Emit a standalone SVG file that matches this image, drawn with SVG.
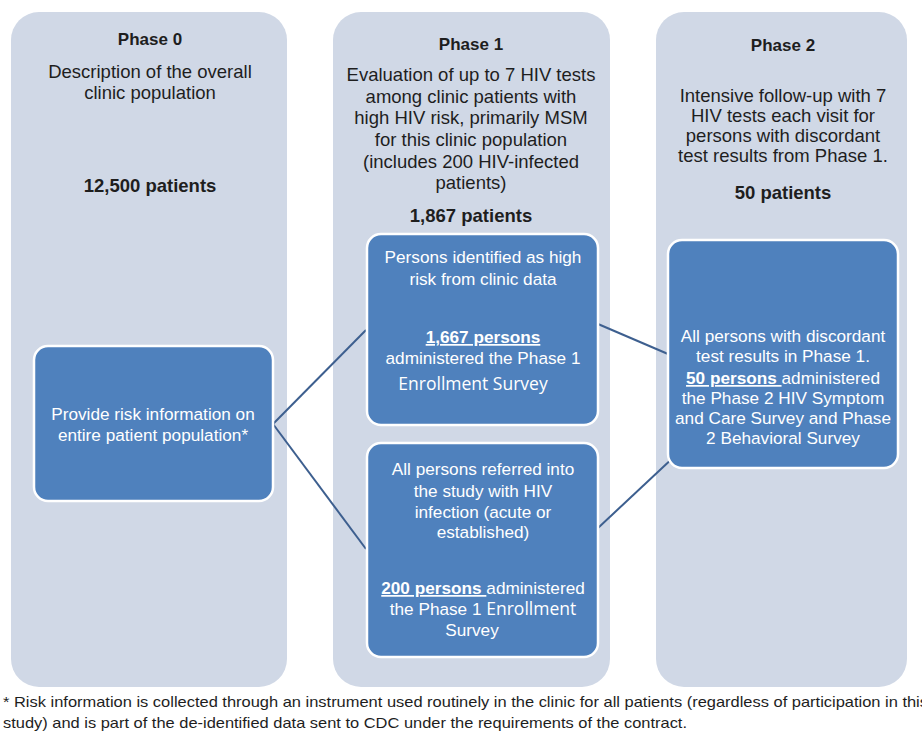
<svg xmlns="http://www.w3.org/2000/svg" width="922" height="732" viewBox="0 0 922 732">
<style>
.col{fill:#d0d8e6}
.box{fill:#4f81bd;stroke:#ffffff;stroke-width:2.5}
.conn{stroke:#3d5f8f;stroke-width:2;fill:none}
.t{font-family:"Liberation Sans",Arial,sans-serif;text-anchor:middle;fill:#1e1e1e;font-size:18.5px}
.h{font-size:17px;font-weight:bold}
.b{font-weight:bold}
.w{font-family:"Liberation Sans",Arial,sans-serif;text-anchor:middle;fill:#ffffff;font-size:17.2px}
.e{font-family:"Open Sans","Noto Sans",sans-serif;font-size:17.5px}
.u{text-decoration:underline;font-weight:bold}
.f{font-family:"Liberation Sans",Arial,sans-serif;fill:#1e1e1e;font-size:15px}
</style>
<rect width="922" height="732" fill="#ffffff"/>
<g id="phase0">
<rect class="col" x="11" y="12" width="276" height="675" rx="28"/>
<text class="t h" x="150" y="45">Phase 0</text>
<text class="t" x="150" y="78">Description of the overall</text>
<text class="t" x="150" y="99">clinic population</text>
<text class="t b" x="150" y="192">12,500 patients</text>
</g>
<g id="phase1">
<rect class="col" x="333" y="12" width="277" height="675" rx="28"/>
<text class="t h" x="471" y="50">Phase 1</text>
<text class="t" x="471" y="81">Evaluation of up to 7 HIV tests</text>
<text class="t" x="471" y="103">among clinic patients with</text>
<text class="t" x="471" y="124">high HIV risk, primarily MSM</text>
<text class="t" x="471" y="146">for this clinic population</text>
<text class="t" x="471" y="168">(includes 200 HIV-infected</text>
<text class="t" x="471" y="189">patients)</text>
<text class="t b" x="471" y="222">1,867 patients</text>
</g>
<g id="phase2">
<rect class="col" x="656" y="12" width="251" height="675" rx="28"/>
<text class="t h" x="783" y="51">Phase 2</text>
<text class="t" x="783" y="102">Intensive follow-up with 7</text>
<text class="t" x="783" y="122">HIV tests each visit for</text>
<text class="t" x="783" y="142">persons with discordant</text>
<text class="t" x="783" y="162">test results from Phase 1.</text>
<text class="t b" x="783" y="199">50 patients</text>
</g>
<g id="connectors">
<line class="conn" x1="273" y1="424" x2="366" y2="330"/>
<line class="conn" x1="273" y1="424" x2="366" y2="549"/>
<line class="conn" x1="598" y1="324" x2="668" y2="354"/>
<line class="conn" x1="598" y1="528" x2="676" y2="455"/>
</g>
<g id="risk-info">
<rect class="box" x="34" y="346" width="239" height="155" rx="14"/>
<text class="w" x="153" y="420">Provide risk information on</text>
<text class="w" x="153" y="441">entire patient population*</text>
</g>
<g id="high-risk">
<rect class="box" x="367" y="234" width="231" height="191" rx="14"/>
<text class="w" x="483" y="263">Persons identified as high</text>
<text class="w" x="483" y="285">risk from clinic data</text>
<text class="w u" x="483" y="343">1,667 persons</text>
<text class="w" x="483" y="364">administered the Phase 1</text>
<text class="w e" x="473" y="390">Enrollment Survey</text>
</g>
<g id="hiv-infected">
<rect class="box" x="367" y="443" width="231" height="214" rx="14"/>
<text class="w" x="483" y="475">All persons  referred into</text>
<text class="w" x="483" y="497">the study  with HIV</text>
<text class="w" x="483" y="518">infection (acute or</text>
<text class="w" x="483" y="538">established)</text>
<text class="w" x="483" y="594"><tspan class="u">200 persons </tspan>administered</text>
<text class="w" x="483" y="615">the Phase 1 <tspan class="e" font-size="16">Enrollment</tspan></text>
<text class="w" x="472" y="636">Survey</text>
</g>
<g id="discordant">
<rect class="box" x="668" y="240" width="230" height="228" rx="14"/>
<text class="w" x="783" y="342">All persons with discordant</text>
<text class="w" x="783" y="362">test results in Phase 1.</text>
<text class="w" x="783" y="384"><tspan class="u">50 persons </tspan>administered</text>
<text class="w" x="783" y="404">the Phase 2 HIV Symptom</text>
<text class="w" x="783" y="424">and Care Survey and Phase</text>
<text class="w" x="783" y="444">2 Behavioral Survey</text>
</g>
<g id="footnote">
<text class="f" x="3" y="707" textLength="925" lengthAdjust="spacingAndGlyphs">* Risk information is collected through an instrument used routinely in the clinic for all patients (regardless of participation in this</text>
<text class="f" x="3" y="728" textLength="684" lengthAdjust="spacingAndGlyphs">study) and is part of the de-identified data sent to CDC under the requirements of the contract.</text>
</g>
</svg>
